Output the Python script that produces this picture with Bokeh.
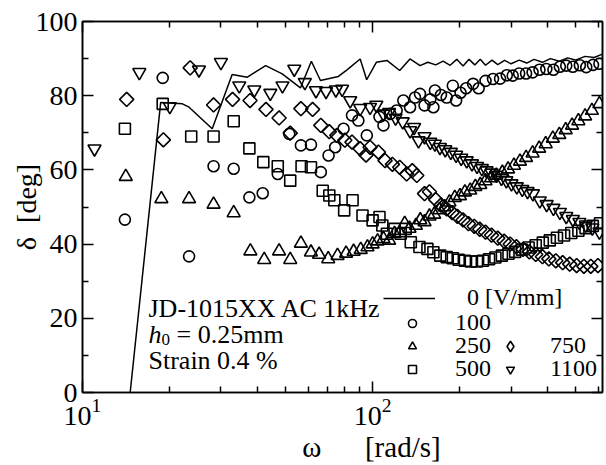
import math
import numpy as np
from bokeh.plotting import figure
from bokeh.models import (Range1d, FixedTicker, LogAxis, LinearAxis, Label,
                          Legend, LegendItem)
from bokeh.embed import file_html
from bokeh.resources import INLINE

# ---------------- data (omega [rad/s], delta [deg]) ----------------
v0_line = [(14.6, 0.0), (18.6, 78.2), (22.1, 77.8), (23.3, 76.9), (28.0, 71.1),
           (32.8, 85.7), (37.0, 85.0), (42.8, 88.1), (48.8, 85.9), (56.4, 82.1),
           (61.5, 89.3), (66.1, 84.1), (76.2, 85.2), (81.4, 86.9), (90.6, 89.9),
           (95.4, 84.3), (103, 89.0), (112, 89.5), (124, 86.8), (134.5, 89.9),
           (145.7, 88.1), (155, 89.0), (165, 88.3), (175, 89.3), (185, 88.2),
           (195, 89.8), (205, 88.0), (215, 89.8), (225, 88.3), (235, 89.8),
           (245, 88.2), (258, 89.6), (270, 88.4), (285, 89.5), (300, 88.6),
           (320, 89.6), (340, 88.8), (360, 89.8), (385, 89.0), (410, 90.0),
           (440, 89.3), (470, 90.2), (500, 89.6), (540, 90.6), (580, 90.3),
           (620, 91.2)]

v100 = [(14.0, 46.6), (18.9, 84.8), (23.3, 36.7), (28.3, 61.0), (33.2, 60.3),
        (37.6, 52.6), (41.8, 53.7), (47.1, 58.9), (51.6, 69.7), (56.6, 66.6),
        (61.3, 66.8), (66.3, 59.4), (70.5, 63.9), (74.3, 66.1), (79.4, 71.1),
        (84.9, 74.7), (89.3, 73.3), (95.5, 69.3), (105.6, 74.3), (109, 72.0),
        (115, 75.1), (121, 76.0), (127.6, 78.7), (134.6, 76.9), (140, 79.5),
        (145.6, 80.5), (151, 77.4), (158, 79.0), (162, 76.9), (164, 81.4),
        (172, 80.2), (180, 79.5), (189, 82.7), (194, 78.7), (201, 80.8),
        (210, 82.0), (222, 83.2), (232, 82.0), (245, 84.0), (260, 84.5),
        (275, 84.6), (290, 85.5), (304, 85.4), (320, 86.0), (338, 86.0),
        (356, 86.3), (376, 87.0), (397, 87.2), (420, 87.0), (442, 87.8),
        (465, 88.1), (490, 87.8), (518, 88.2), (545, 87.7), (575, 88.3),
        (605, 88.6)]

v250 = [(14.1, 58.2), (18.7, 52.2), (23.3, 52.2), (28.3, 50.7), (33.2, 48.4),
        (37.9, 38.1), (42.3, 35.8), (47.6, 38.1), (52.0, 35.8), (56.6, 40.2),
        (61.3, 37.8), (65.4, 37.2), (70.3, 36.0), (75.7, 36.9), (81, 37.5),
        (86, 38.0), (91, 38.5), (96, 39.2), (100, 40.0), (104, 40.8),
        (109, 41.4), (114, 41.0), (119, 42.8), (124, 43.0), (129, 45.5),
        (134, 44.2), (141, 45.0), (146, 46.5), (151, 46.0), (157, 47.5),
        (163, 48.0), (170, 49.2), (177, 50.0), (184, 51.3), (192, 52.5),
        (200, 53.0), (208, 54.0), (217, 54.5), (226, 55.5), (235, 56.0),
        (245, 57.0), (256, 57.8), (267, 58.5), (280, 59.3), (293, 60.2),
        (307, 61.2), (322, 62.3), (338, 63.3), (356, 64.5), (375, 65.8),
        (395, 67.0), (418, 68.5), (440, 69.5), (463, 70.8), (487, 72.0),
        (512, 73.2), (540, 74.5), (570, 76.0), (605, 77.8)]

v500 = [(14.0, 71.1), (18.9, 77.8), (23.7, 69.0), (28.3, 69.0), (33.2, 73.1),
        (37.6, 65.8), (42.0, 62.1), (47.1, 61.0), (52.0, 57.1), (56.9, 61.0),
        (61.3, 60.7), (67.3, 54.4), (70.9, 53.1), (73.8, 51.8), (79.8, 49.1),
        (85.3, 51.8), (92.3, 47.7), (100, 46.4), (105.6, 47.3), (108, 45.0),
        (112, 42.8), (119, 44.1), (125, 42.8), (130, 44.1), (135.4, 40.5),
        (145, 39.2), (154.5, 38.7), (162, 37.8), (171, 36.9), (180, 36.5),
        (189, 36.2), (198, 35.8), (208, 35.5), (218, 35.3), (229, 35.3),
        (240, 35.5), (252, 35.9), (265, 36.4), (279, 36.9), (294, 37.4),
        (310, 37.9), (327, 38.5), (345, 39.1), (365, 39.7), (386, 40.4),
        (408, 41.0), (432, 41.7), (457, 42.3), (484, 43.0), (512, 43.6),
        (542, 44.3), (574, 44.9), (608, 45.6)]

v750 = [(14.2, 79.0), (19.0, 68.1), (23.5, 87.5), (28.3, 77.5), (32.9, 79.0),
        (37.8, 78.7), (42.9, 76.3), (47.6, 74.0), (52.0, 69.9), (56.6, 76.5),
        (62.1, 76.3), (66.3, 72.0), (70.9, 70.3), (75.3, 69.3), (80.2, 68.0),
        (84.9, 67.5), (90.6, 65.7), (94.9, 64.0), (98, 66.1), (104.7, 64.8),
        (110.4, 62.5), (117, 61.5), (124, 60.7), (131, 58.9), (137, 59.8),
        (142, 58.5), (151, 53.6), (157, 54.1), (165, 52.0), (172, 50.5),
        (180, 49.5), (188, 48.5), (196, 47.5), (205, 46.5), (214, 45.5),
        (224, 44.8), (234, 44.0), (245, 43.2), (257, 42.4), (270, 41.6),
        (284, 40.8), (298, 40.0), (313, 39.3), (330, 38.6), (347, 37.9),
        (365, 37.2), (385, 36.6), (405, 36.0), (428, 35.5), (452, 35.0),
        (478, 34.6), (505, 34.2), (535, 34.0), (565, 34.0), (598, 34.2)]

v1100 = [(11.0, 65.7), (15.7, 86.3), (20.0, 77.1), (25.2, 87.0), (30.0, 89.0),
         (34.7, 82.7), (39.1, 81.6), (44.4, 80.7), (48.9, 82.7), (53.7, 87.2),
         (58.4, 83.6), (63.8, 81.4), (69.1, 81.2), (74.7, 81.6), (78.5, 81.8),
         (83.7, 78.7), (90.6, 76.6), (98, 76.9), (103, 77.5), (109, 75.1),
         (114, 75.5), (120, 74.0), (127, 73.0), (134.6, 70.6), (139, 71.5),
         (144, 67.9), (151, 69.0), (158, 67.5), (164, 67.0), (170.6, 66.1),
         (178, 65.5), (186, 64.8), (194, 64.0), (202, 63.2), (211, 62.5),
         (220, 61.7), (229, 61.0), (238, 60.4), (247, 59.8), (257, 59.2),
         (267, 58.6), (278, 57.8), (289, 57.1), (301, 56.3), (314, 55.5),
         (328, 54.8), (342, 54.2), (357, 53.6), (377, 51.7), (398, 50.7),
         (420, 49.7), (442, 48.6), (465, 47.5), (490, 46.7), (516, 45.9),
         (543, 45.2), (572, 44.4), (605, 43.3)]

series_labels = ["\u00a0\u00a00 [V/mm]", "100", "250", "500", "750", "1100"]
x_major = [10, 100]
x_minor = [20, 30, 40, 50, 60, 70, 80, 90, 200, 300, 400, 500, 600]
y_major = [0, 20, 40, 60, 80, 100]
y_minor = [10, 30, 50, 70, 90]
note_lines = ["JD-1015XX AC 1kHz", "Strain 0.4 %"]
x_title = "\u00a0" * 8 + "\u03c9" + "\u00a0" * 6 + "[rad/s]"
y_title = "\u03b4\u00a0\u00a0[deg]"

# ---------------- layout ----------------
W, H = 606, 465
FL, FR, FT, FB = 82, 602, 21, 392
XMIN, XMAX = 10, 620
FONT = "Liberation Serif"


def px_to_w(px):
    lo, hi = math.log10(XMIN), math.log10(XMAX)
    return 10 ** (lo + (px - FL) / (FR - FL) * (hi - lo))


def py_to_d(py):
    return (FB - py) / (FB - FT) * 100.0


p = figure(width=W, height=H, x_axis_type="log",
           x_range=Range1d(XMIN, XMAX), y_range=Range1d(0, 100),
           output_backend="svg", toolbar_location=None,
           min_border_left=FL, min_border_right=W - FR,
           min_border_top=FT, min_border_bottom=H - FB)
p.grid.visible = False
p.outline_line_color = "black"
p.outline_line_width = 1.5
p.background_fill_color = "white"
p.border_fill_color = "white"
# an off-screen y range: lets a legend key share the 750 data without
# drawing any extra marks inside the frame
p.extra_y_ranges = {"keyonly": Range1d(1000, 2000)}

p.add_layout(LogAxis(), "above")
p.add_layout(LinearAxis(), "right")

for ax in p.xaxis:
    ax.ticker = FixedTicker(ticks=x_major, minor_ticks=x_minor)
for ax in p.yaxis:
    ax.ticker = FixedTicker(ticks=y_major, minor_ticks=y_minor)

for ax in p.xaxis + p.yaxis:
    ax.axis_line_width = 1.6
    ax.axis_line_color = "black"
    ax.major_tick_in = 11
    ax.major_tick_out = 0
    ax.minor_tick_in = 6
    ax.minor_tick_out = 0
    ax.major_tick_line_width = 1.5
    ax.minor_tick_line_width = 1.5
    ax.major_tick_line_color = "black"
    ax.minor_tick_line_color = "black"
    ax.major_label_text_font = FONT
    ax.major_label_text_font_size = "28px"
    ax.major_label_text_color = "black"
    ax.axis_label_text_font = FONT
    ax.axis_label_text_font_style = "normal"
    ax.axis_label_text_color = "black"

xa, ya = p.below[0], p.left[0]
xa.major_label_standoff = 6
xa.axis_label = x_title
xa.axis_label_text_font_size = "29px"
xa.axis_label_standoff = 3
ya.major_label_standoff = 5
ya.axis_label = y_title
ya.axis_label_text_font_size = "28px"
ya.axis_label_standoff = -9

# mirrored axes: ticks only
p.above[0].major_label_overrides = {t: "" for t in x_major}
p.right[0].major_label_overrides = {t: "" for t in y_major}
for ax in (p.above[0], p.right[0]):
    ax.major_label_text_font_size = "1px"
    ax.major_label_standoff = 0

# ---------------- data renderers ----------------
def cols(pairs):
    return [a for a, _ in pairs], [b for _, b in pairs]


mk = dict(fill_color=None, line_color="black", line_width=1.6)
w, d = cols(v0_line)
r0 = p.line(w, d, line_color="black", line_width=1.5)
w, d = cols(v100)
r100 = p.scatter(w, d, marker="circle", size=11, **mk)
w, d = cols(v250)
r250 = p.scatter(w, d, marker="triangle", size=13, **mk)
w, d = cols(v500)
r500 = p.scatter(w, d, marker="square", size=11, **mk)
w, d = cols(v750)
r750 = p.scatter(w, d, marker="square", size=10, angle=math.pi / 4, **mk)
r750_key = p.scatter(w, d, marker="diamond", size=10, y_range_name="keyonly",
                     **mk)
w, d = cols(v1100)
r1100 = p.scatter(w, d, marker="inverted_triangle", size=13, **mk)

# ---------------- legend (one single-row legend per key) ----------------
ITEM_H = 26


def key(label, rend, left, row_y, glyph_w, standoff, glyph_h=20):
    lg = Legend(items=[LegendItem(label=label, renderers=[rend])],
                location=(left - FL, FB - row_y - ITEM_H / 2),
                glyph_width=glyph_w, glyph_height=glyph_h, label_height=20,
                label_standoff=standoff, spacing=0, padding=0, margin=0,
                border_line_color=None, background_fill_alpha=0,
                label_text_font=FONT, label_text_font_size="24px",
                label_text_color="black")
    p.add_layout(lg)


key(series_labels[0], r0, 383, 298, 52, 20)
key(series_labels[1], r100, 402, 323, 20, 33)
key(series_labels[2], r250, 402, 346, 20, 33)
key(series_labels[3], r500, 402, 369, 20, 33)
key(series_labels[4], r750_key, 497, 346, 26, 27, glyph_h=26)
key(series_labels[5], r1100, 500, 369, 20, 30)

# ---------------- texts inside the frame ----------------
def txt(text, px, py, size, style="normal"):
    p.add_layout(Label(x=px_to_w(px), y=py_to_d(py), text=text,
                       text_font=FONT, text_font_size=f"{size}px",
                       text_font_style=style, text_color="black",
                       text_align="left", text_baseline="alphabetic"))


txt(note_lines[0], 148, 308, 26)
txt("h", 148, 334, 26, style="italic")
txt("0", 161, 339, 17)
txt("= 0.25mm", 176, 334, 26)
txt(note_lines[1], 148, 360, 26)

open("out.html", "w").write(file_html(p, INLINE))
